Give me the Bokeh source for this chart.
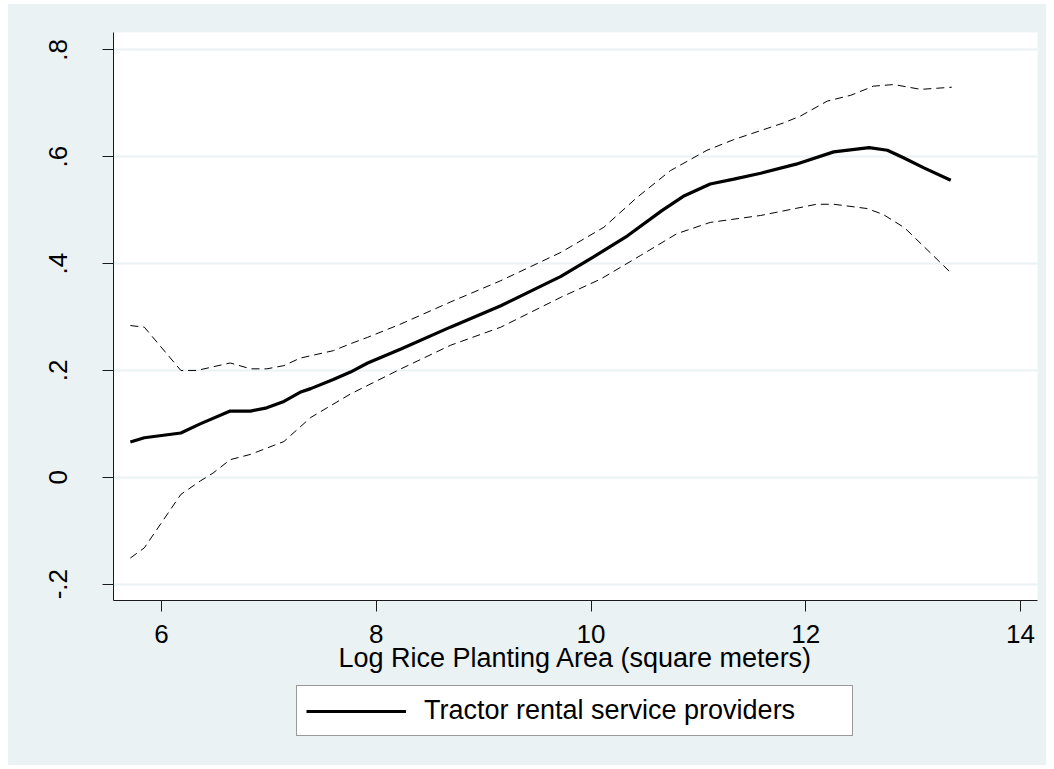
from bokeh.plotting import figure
from bokeh.models import FixedTicker, Range1d, Legend, LegendItem
from bokeh.layouts import column
from bokeh.embed import file_html
from bokeh.resources import INLINE

# ---- data ----
x_fit = [5.71, 5.84, 6.18, 6.36, 6.64, 6.83, 6.98, 7.14, 7.29, 7.39,
         7.60, 7.76, 7.92, 8.23, 8.69, 9.16, 9.72, 10.02, 10.34, 10.66,
         10.87, 11.11, 11.33, 11.58, 11.91, 12.26, 12.59, 12.76, 12.91, 13.10,
         13.35]
y_fit = [0.066, 0.074, 0.083, 0.100, 0.124, 0.124, 0.130, 0.142, 0.159, 0.166,
         0.183, 0.197, 0.214, 0.240, 0.281, 0.321, 0.376, 0.412, 0.452, 0.499,
         0.527, 0.549, 0.558, 0.569, 0.586, 0.609, 0.617, 0.612, 0.598, 0.579,
         0.556]

x_hi = [5.71, 5.84, 6.18, 6.33, 6.64, 6.83, 6.98, 7.14, 7.29, 7.60,
        7.76, 7.92, 8.23, 8.69, 9.16, 9.72, 10.12, 10.43, 10.74, 11.08,
        11.33, 11.79, 11.95, 12.20, 12.42, 12.63, 12.82, 13.07, 13.36]
y_hi = [0.284, 0.281, 0.200, 0.200, 0.214, 0.203, 0.203, 0.209, 0.223, 0.237,
        0.250, 0.262, 0.287, 0.328, 0.368, 0.421, 0.468, 0.524, 0.574, 0.612,
        0.632, 0.663, 0.676, 0.704, 0.715, 0.732, 0.735, 0.726, 0.730]

x_lo = [5.71, 5.84, 6.18, 6.36, 6.48, 6.64, 6.83, 7.14, 7.39, 7.76,
        8.23, 8.69, 9.16, 9.72, 10.09, 10.46, 10.80, 11.11, 11.58, 12.10,
        12.26, 12.57, 12.72, 12.92, 13.35]
y_lo = [-0.151, -0.132, -0.032, -0.007, 0.008, 0.033, 0.043, 0.067, 0.112, 0.156,
        0.203, 0.247, 0.281, 0.337, 0.371, 0.415, 0.456, 0.477, 0.490, 0.511,
        0.511, 0.503, 0.492, 0.467, 0.383]

x_ticks = [6, 8, 10, 12, 14]
y_ticks = [-0.2, 0, 0.2, 0.4, 0.6, 0.8]
y_tick_labels = ["-.2", "0", ".2", ".4", ".6", ".8"]

x_title = "Log Rice Planting Area (square meters)"
legend_label = "Tractor rental service providers"

# ---- styling ----
FONT = "Liberation Sans"
BG = "#EAF2F3"
AXIS = "#1a1a1a"

p = figure(width=1038, height=676, output_backend="svg", toolbar_location=None,
           x_range=Range1d(5.553, 14.158), y_range=Range1d(-0.2305, 0.8324),
           min_border_left=105, min_border_right=9, min_border_top=28,
           min_border_bottom=80)
p.background_fill_color = "white"
p.border_fill_color = BG
p.outline_line_color = None

r_hi = p.line(x_hi, y_hi, line_color="black", line_width=1, line_dash="8 5")
r_lo = p.line(x_lo, y_lo, line_color="black", line_width=1, line_dash="8 5")
r_fit = p.line(x_fit, y_fit, line_color="black", line_width=3.2)

xt = FixedTicker(ticks=x_ticks)
yt = FixedTicker(ticks=y_ticks)
p.xaxis.ticker = xt
p.yaxis.ticker = yt
p.ygrid.ticker = yt
p.xgrid.visible = False
p.ygrid.grid_line_color = BG
p.ygrid.grid_line_width = 2
p.yaxis.major_label_overrides = {t: l for t, l in zip(y_ticks, y_tick_labels)}

for ax in (p.xaxis, p.yaxis):
    ax.axis_line_color = AXIS
    ax.axis_line_width = 1
    ax.major_tick_line_color = AXIS
    ax.major_tick_line_width = 1
    ax.major_tick_out = 11
    ax.major_tick_in = 0
    ax.minor_tick_out = 0
    ax.minor_tick_in = 0
    ax.major_label_text_font = FONT
    ax.major_label_text_font_size = "26px"
    ax.major_label_text_color = "black"

p.yaxis.major_label_orientation = "vertical"
p.yaxis.major_label_standoff = 35
p.xaxis.major_label_standoff = 13
p.xaxis.axis_label = x_title
p.xaxis.axis_label_text_font = FONT
p.xaxis.axis_label_text_font_size = "27px"
p.xaxis.axis_label_text_font_style = "normal"
p.xaxis.axis_label_text_color = "black"
p.xaxis.axis_label_standoff = -3

# ---- legend strip below the chart (its frame is aligned with the chart's) ----
p2 = figure(width=1038, height=85, output_backend="svg", toolbar_location=None,
            x_axis_type=None, y_axis_type=None,
            x_range=Range1d(0, 1), y_range=Range1d(0, 1),
            min_border_left=0, min_border_right=0, min_border_top=0,
            min_border_bottom=0)
p2.background_fill_color = BG
p2.border_fill_color = BG
p2.outline_line_color = None
p2.xgrid.visible = False
p2.ygrid.visible = False
# proxy renderer for the legend key: same series, lies outside this strip's view
r_leg = p2.line(x_fit, y_fit, line_color="black", line_width=3.2)

legend = Legend(items=[LegendItem(label=legend_label, renderers=[r_leg])],
                location=(183, 29), orientation="horizontal",
                label_text_font=FONT, label_text_font_size="27px",
                label_text_color="black",
                border_line_color="#333333", border_line_width=1,
                background_fill_color="white", background_fill_alpha=1,
                padding=9, spacing=0, margin=0,
                glyph_width=100, label_standoff=18, label_width=419)
p2.add_layout(legend, "center")

layout = column(p, p2, spacing=0, margin=(4, 0, 0, 8))
layout.styles = {"background-color": BG}

open("out.html", "w").write(file_html(layout, INLINE))
